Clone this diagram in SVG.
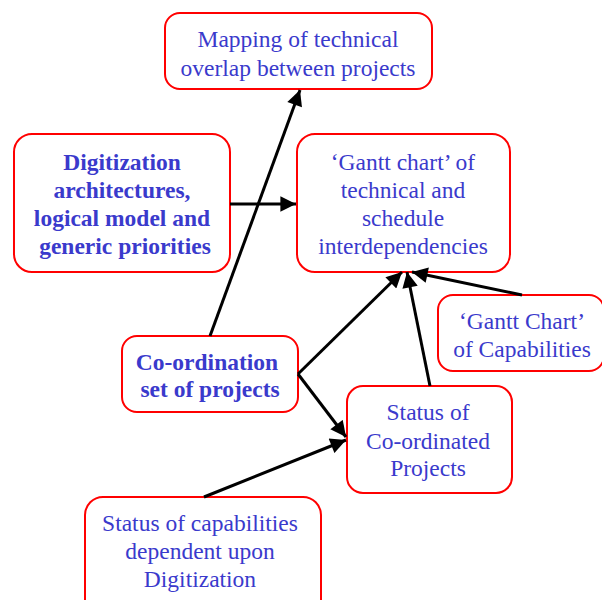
<svg xmlns="http://www.w3.org/2000/svg" width="602" height="600" viewBox="0 0 602 600">
  <style>
    .box { fill: #ffffff; stroke: #ff0000; stroke-width: 2; }
    .lbl { font-family: "Liberation Serif", "Times New Roman", serif; font-size: 23.5px; fill: #3a3acc; text-anchor: middle; }
    .bold { font-weight: bold; }
    .edge { stroke: #000000; stroke-width: 3; fill: none; }
  </style>
  <defs>
    <marker id="arrow" viewBox="0 0 10 10" refX="10" refY="5" markerWidth="5.6" markerHeight="5.2" markerUnits="strokeWidth" orient="auto">
      <path d="M0,0 L10,5 L0,10 z" fill="#000000"/>
    </marker>
  </defs>
  <rect width="602" height="600" fill="#ffffff"/>

  <g id="mapping">
    <rect class="box" x="165" y="13" width="267" height="76" rx="15"/>
    <text class="lbl" x="298" y="47">Mapping of technical</text>
    <text class="lbl" x="298" y="76">overlap between projects</text>
  </g>

  <g id="digitization">
    <rect class="box" x="14" y="134" width="216" height="138" rx="18"/>
    <text class="lbl bold" x="122" y="170">Digitization</text>
    <text class="lbl bold" x="122" y="198">architectures,</text>
    <text class="lbl bold" x="122" y="226">logical model and</text>
    <text class="lbl bold" x="125" y="254">generic priorities</text>
  </g>

  <g id="gantt-interdependencies">
    <rect class="box" x="297" y="134" width="213" height="138" rx="18"/>
    <text class="lbl" x="403" y="170">‘Gantt chart’ of</text>
    <text class="lbl" x="403" y="198">technical and</text>
    <text class="lbl" x="403" y="226">schedule</text>
    <text class="lbl" x="403" y="254">interdependencies</text>
  </g>

  <g id="gantt-capabilities">
    <rect class="box" x="438" y="295" width="166" height="76" rx="15"/>
    <text class="lbl" x="522" y="329">‘Gantt Chart’</text>
    <text class="lbl" x="522" y="357">of Capabilities</text>
  </g>

  <g id="coordination">
    <rect class="box" x="122" y="336" width="176" height="76" rx="15"/>
    <text class="lbl bold" x="207" y="370">Co-ordination</text>
    <text class="lbl bold" x="210" y="397">set of projects</text>
  </g>

  <g id="status-coordinated">
    <rect class="box" x="347" y="386" width="165" height="107" rx="16"/>
    <text class="lbl" x="428" y="420">Status of</text>
    <text class="lbl" x="428" y="449">Co-ordinated</text>
    <text class="lbl" x="428" y="476">Projects</text>
  </g>

  <g id="status-capabilities">
    <rect class="box" x="85" y="497" width="236" height="120" rx="18"/>
    <text class="lbl" x="200" y="531">Status of capabilities</text>
    <text class="lbl" x="200" y="559">dependent upon</text>
    <text class="lbl" x="200" y="587">Digitization</text>
  </g>

  <g id="connectors">
    <line class="edge" x1="230" y1="204" x2="296" y2="204" marker-end="url(#arrow)"/>
    <line class="edge" x1="210" y1="336" x2="300" y2="90" marker-end="url(#arrow)"/>
    <line class="edge" x1="298" y1="374" x2="402" y2="272" marker-end="url(#arrow)"/>
    <line class="edge" x1="298" y1="374" x2="346" y2="437" marker-end="url(#arrow)"/>
    <line class="edge" x1="204" y1="497" x2="346" y2="440" marker-end="url(#arrow)"/>
    <line class="edge" x1="430" y1="386" x2="407" y2="272" marker-end="url(#arrow)"/>
    <line class="edge" x1="522" y1="295" x2="412" y2="272" marker-end="url(#arrow)"/>
  </g>
</svg>
